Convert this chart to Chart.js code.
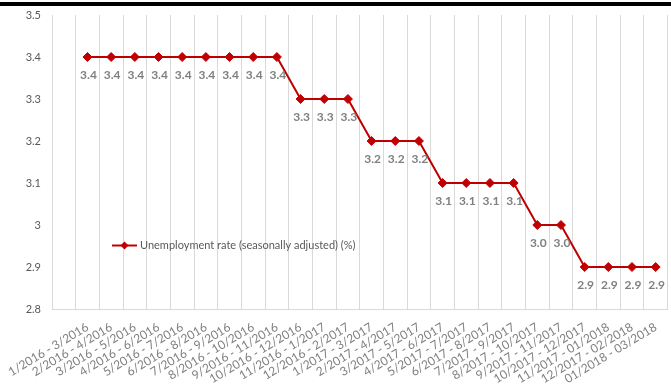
<!DOCTYPE html>
<html>
<head>
<meta charset="utf-8">
<script src="https://cdn.jsdelivr.net/npm/chart.js@4/dist/chart.umd.min.js"></script>
<style>
  html, body { margin: 0; padding: 0; background: #fff; overflow: hidden; }
  #wrap { position: relative; width: 673px; height: 389px; }
</style>
</head>
<body>
<div id="wrap"><canvas id="c"></canvas></div>
<script>
// Rolling three-month periods (the axis keeps one empty band before the first period)
const periods = [
  '',
  '1/2016 - 3/2016', '2/2016 - 4/2016', '3/2016 - 5/2016', '4/2016 - 6/2016',
  '5/2016 - 7/2016', '6/2016 - 8/2016', '7/2016 - 9/2016', '8/2016 - 10/2016',
  '9/2016 - 11/2016', '10/2016 - 12/2016', '11/2016 - 1/2017', '12/2016 - 2/2017',
  '1/2017 - 3/2017', '2/2017 - 4/2017', '3/2017 - 5/2017', '4/2017 - 6/2017',
  '5/2017 - 7/2017', '6/2017 - 8/2017', '7/2017 - 9/2017', '8/2017 - 10/2017',
  '9/2017 - 11/2017', '10/2017 - 12/2017', '11/2017 - 01/2018', '12/2017 - 02/2018',
  '01/2018 - 03/2018'
];

// Unemployment rate, seasonally adjusted (%)
const unemploymentRate = [
  null,
  3.4, 3.4, 3.4, 3.4, 3.4, 3.4, 3.4, 3.4, 3.4,
  3.3, 3.3, 3.3,
  3.2, 3.2, 3.2,
  3.1, 3.1, 3.1, 3.1,
  3.0, 3.0,
  2.9, 2.9, 2.9, 2.9
];

const yTickLabels = ['2.8', '2.9', '3', '3.1', '3.2', '3.3', '3.4', '3.5'];

const seriesName = 'Unemployment rate (seasonally adjusted) (%)';
const lineColor = '#C00000';
const FONT = 'Lato, "Open Sans", "Liberation Sans", sans-serif';

// Thin black band across the top of the page
const topBand = {
  id: 'topBand',
  beforeDraw(chart) {
    const ctx = chart.ctx;
    ctx.save();
    ctx.fillStyle = '#000';
    ctx.fillRect(0, 2, chart.width, 4);
    ctx.restore();
  }
};

// Value labels under each point
const valueLabels = {
  id: 'valueLabels',
  afterDatasetsDraw(chart) {
    const ctx = chart.ctx;
    const meta = chart.getDatasetMeta(0);
    const data = chart.data.datasets[0].data;
    ctx.save();
    ctx.font = 'bold 12px ' + FONT;
    ctx.fillStyle = '#7f7f7f';
    ctx.textAlign = 'center';
    ctx.textBaseline = 'middle';
    meta.data.forEach((pt, i) => {
      if (data[i] == null) return;
      ctx.fillText(data[i].toFixed(1), pt.x + 1, pt.y + 18);
    });
    ctx.restore();
  }
};

// Legend drawn inside the plot area
const insideLegend = {
  id: 'insideLegend',
  afterDatasetsDraw(chart) {
    const ctx = chart.ctx;
    const ds = chart.data.datasets[0];
    const x0 = 112, x1 = 137, y = 245.5;
    const cx = (x0 + x1) / 2, r = 4;
    ctx.save();
    ctx.strokeStyle = ds.borderColor;
    ctx.lineWidth = 2;
    ctx.beginPath();
    ctx.moveTo(x0, y);
    ctx.lineTo(x1, y);
    ctx.stroke();
    ctx.fillStyle = ds.pointBackgroundColor;
    ctx.beginPath();
    ctx.moveTo(cx, y - r); ctx.lineTo(cx + r, y); ctx.lineTo(cx, y + r); ctx.lineTo(cx - r, y);
    ctx.closePath();
    ctx.fill();
    ctx.font = '11px ' + FONT;
    ctx.fillStyle = '#595959';
    ctx.textAlign = 'left';
    ctx.textBaseline = 'middle';
    ctx.fillText(ds.label, 140, y);
    ctx.restore();
  }
};

new Chart(document.getElementById('c'), {
  type: 'line',
  data: {
    labels: periods,
    datasets: [{
      label: seriesName,
      data: unemploymentRate,
      borderColor: lineColor,
      backgroundColor: lineColor,
      borderWidth: 2,
      pointStyle: 'rectRot',
      pointRadius: 4.5,
      pointBackgroundColor: lineColor,
      pointBorderColor: lineColor,
      pointBorderWidth: 1,
      tension: 0,
      spanGaps: false
    }]
  },
  options: {
    responsive: true,
    maintainAspectRatio: false,
    animation: false,
    events: [],
    layout: { padding: { top: 15, right: 0, bottom: 0, left: 0 } },
    plugins: {
      legend: { display: false },
      tooltip: { enabled: false },
      title: { display: false }
    },
    scales: {
      x: {
        type: 'category',
        offset: true,
        grid: {
          display: true,
          offset: true,
          color: '#d9d9d9',
          lineWidth: 1,
          drawTicks: false
        },
        border: { display: true, color: '#d9d9d9', width: 1 },
        ticks: {
          autoSkip: false,
          maxRotation: 31,
          minRotation: 31,
          padding: 11,
          color: '#7f7f7f',
          font: { family: FONT, size: 12 }
        },
        afterFit(scale) {
          scale.height = 80;
          scale.paddingLeft = 0;
          scale.paddingRight = 0;
        }
      },
      y: {
        min: 2.8,
        max: 3.5,
        grid: { display: false, drawTicks: false },
        border: { display: false },
        afterBuildTicks(scale) {
          scale.ticks = yTickLabels.map(v => ({ value: parseFloat(v) }));
        },
        ticks: {
          padding: 11,
          color: '#595959',
          font: { family: FONT, size: 11 },
          callback: (value, index) => yTickLabels[index]
        },
        afterFit(scale) {
          scale.width = 52;
          scale.paddingTop = 0;
          scale.paddingBottom = 0;
        }
      }
    }
  },
  plugins: [topBand, valueLabels, insideLegend]
});
</script>
</body>
</html>
